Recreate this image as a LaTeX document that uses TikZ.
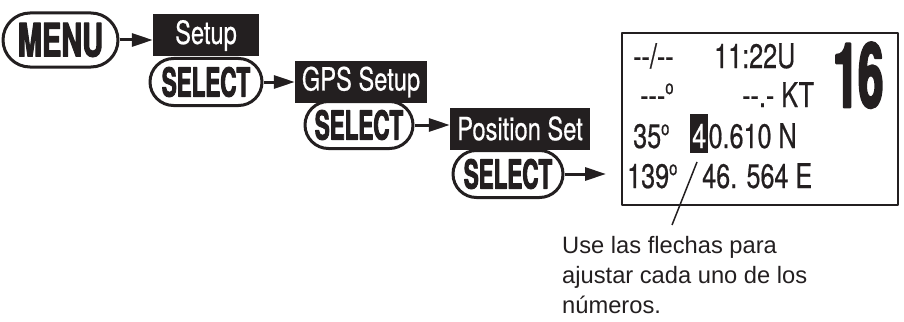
\documentclass[tikz,border=0pt]{standalone}
\usepackage{fontspec}
\setmainfont{Liberation Sans}
\newfontfamily\lcdfont[FakeStretch=0.74,FakeBold=0.5]{TeX Gyre Heros}
\newfontfamily\keyfont[FakeStretch=0.56,FakeBold=2.2]{TeX Gyre Heros}
\newfontfamily\menufont[FakeStretch=0.63,FakeBold=2.2]{TeX Gyre Heros}
\newfontfamily\chanfont[FakeStretch=0.5,FakeBold=2.5]{TeX Gyre Heros}
\usetikzlibrary{arrows.meta,shapes.misc,positioning}
\definecolor{ink}{RGB}{35,31,32}
\newcommand\degmark{\raisebox{0.38em}{\fontsize{20}{20}\selectfont o}}

\begin{document}
\begin{tikzpicture}[x=1pt, y=-1pt, line join=round,
    key/.style={rounded rectangle, draw=ink, line width=3pt, inner sep=0pt,
                minimum height=47pt, text=ink,
                font=\keyfont\bfseries\fontsize{40}{40}\selectfont},
    menubox/.style={fill=ink, text=white, inner sep=0pt, minimum height=42pt,
                    font=\lcdfont\fontsize{32}{32}\selectfont},
    go/.style={draw=ink, line width=3pt, -{Triangle[length=21pt,width=13pt]}},
    lcd/.style={anchor=base west, inner sep=0pt, text=ink,
                font=\lcdfont\fontsize{34}{34}\selectfont}]
  \useasboundingbox (0,0) rectangle (904,321);

  % Menu path: keys and menu entries
  \node[key, minimum width=115pt, minimum height=54pt,
        font=\menufont\bfseries\fontsize{46}{46}\selectfont] (menu) at (60.5,40) {MENU};
  \node[menubox, minimum width=106pt] (setup) at (206,35.5) {Setup};
  \node[key, minimum width=112pt] (sel1) at (206,82) {SELECT};
  \node[menubox, minimum width=132pt] (gps) at (361,82) {GPS Setup};
  \node[key, minimum width=108pt] (sel2) at (359,125) {SELECT};
  \node[menubox, minimum width=140pt] (pos) at (520,128.5) {Position Set};
  \node[key, minimum width=110pt] (sel3) at (508,174) {SELECT};

  % Display
  \node[draw=ink, line width=2pt, minimum width=276pt, minimum height=172pt,
        inner sep=0pt] (lcd) at (760,119) {};

  % Arrows
  \draw[go] (menu.east) -- (menu.east -| setup.west);
  \draw[go] (sel1.east) -- (sel1.east -| gps.west);
  \draw[go] (sel2.east) -- (sel2.east -| pos.west);
  \draw[go, shorten >=15pt] (sel3.east) -- (sel3.east -| lcd.west);

  % Display readings
  \node[lcd] (date) at (633,68) {-{}-/-{}-};
  \node[lcd] (time) at (714,68) {11:22U};
  \node[lcd] (hdg) at (640,107) {-{}-{}-\degmark};
  \node[lcd] (spd) at (742,107) {-{}-.- KT};
  \node[lcd] (latd) at (633,148) {35\degmark};
  \node[lcd, fill=ink, text=white, text height=34pt, text depth=5pt,
        minimum width=18pt] (hl) at (690,148) {4};
  \node[lcd] (latm) at (hl.base east) {0.610 N};
  \node[lcd] (lond) at (627,188) {139\degmark};
  \node[lcd] (lonm) at (702,188) {46. 564 E};
  \node[lcd, anchor=north west,
        font=\chanfont\bfseries\fontsize{90}{90}\selectfont] (chan) at (833,42) {16};

  % Note with leader line
  \node[anchor=north west, align=left, inner sep=0pt, text=ink,
        font=\fontsize{23.7}{30}\selectfont] (note) at (562,236)
        {Use las flechas para\\ajustar cada uno de los\\números.};
  \coordinate (hint) at (697,162);
  \coordinate (foot) at (672,225);
  \draw[ink, line width=1.5pt] (foot) -- (hint);
\end{tikzpicture}
\end{document}
